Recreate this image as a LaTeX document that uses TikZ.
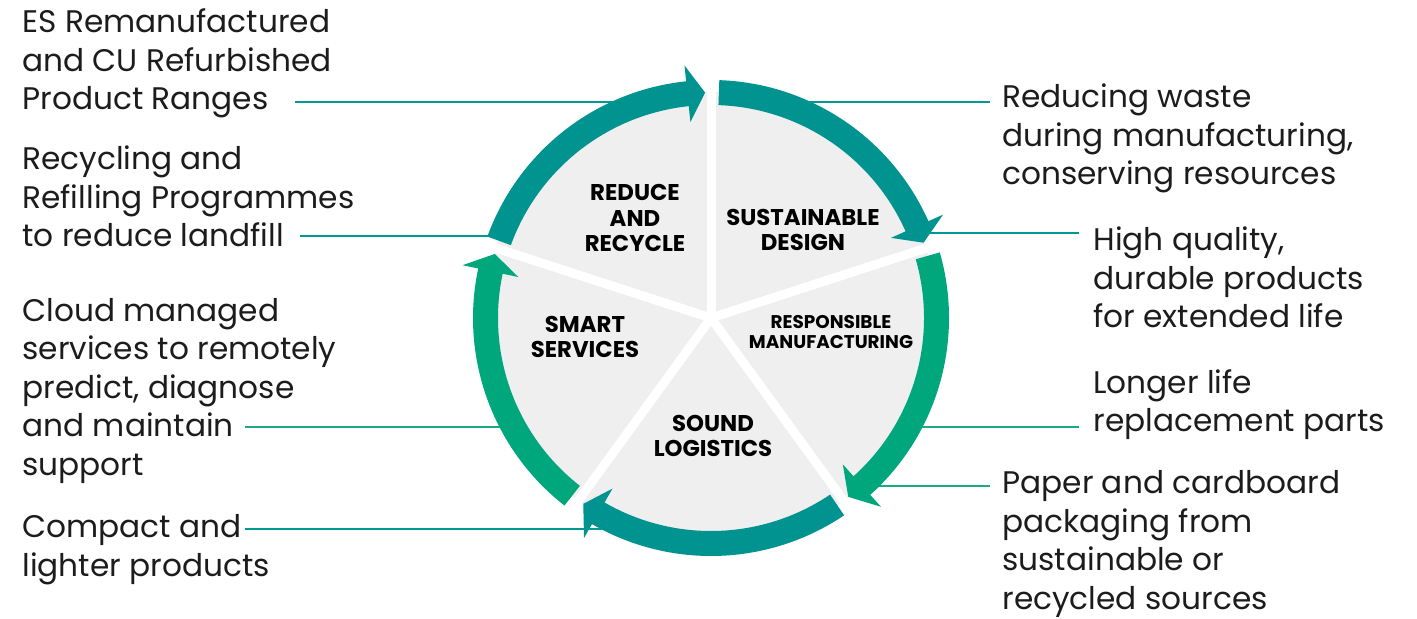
\documentclass[tikz,border=0pt]{standalone}
\usepackage{fontspec}
\setmainfont{Poppins}
\usetikzlibrary{calc}

\definecolor{ringteal}{RGB}{0,147,144}
\definecolor{ringgreen}{RGB}{0,166,124}
\definecolor{lineteal}{RGB}{0,152,150}
\definecolor{linegreen}{RGB}{28,170,134}
\definecolor{discgray}{RGB}{239,239,239}
\definecolor{inktext}{RGB}{28,28,28}

% colour, start angle, end angle (clockwise)
\newcommand{\ringarrow}[3]{%
  \fill[#1] (#2-2:213) arc[start angle=#2-2, end angle=#3+6, radius=213]
    -- (#3+6:197) -- (#3+1.5:225.5) -- (#3+6:254) -- (#3+6:238)
    arc[start angle=#3+6, end angle=#2-2, radius=238] -- cycle;}

\tikzset{
  note/.style={anchor=base west, align=left, inner sep=0pt, text=inktext,
    font=\fontsize{15.6}{19.25}\selectfont},
  stage/.style={align=center, inner sep=0pt, text=black,
    font=\bfseries\fontsize{11.4}{12.75}\selectfont},
  smallstage/.style={stage, font=\bfseries\fontsize{9.2}{10}\selectfont},
  tealline/.style={draw=lineteal, line width=1.4pt},
  greenline/.style={draw=linegreen, line width=1.4pt},
}

\begin{document}
\begin{tikzpicture}[x=0.5pt, y=0.5pt]
  \useasboundingbox (0,0) rectangle (1417,-619);

  % texts round the wheel (placed at the baseline of their last line)
  \node[note] (esnote) at (22,-110) {ES Remanufactured\\and CU Refurbished\\Product Ranges};
  \node[note] (recyclenote) at (22,-247) {Recycling and\\Refilling Programmes\\to reduce landfill};
  \node[note] (cloudnote) at (22,-475) {Cloud managed\\services to remotely\\predict, diagnose\\and maintain\\support};
  \node[note] (compactnote) at (22,-576) {Compact and\\lighter products};

  \node[note] (wastenote) at (1002,-185) {Reducing waste\\during manufacturing,\\conserving resources};
  \node[note] (qualitynote) at (1093,-328) {High quality,\\durable products\\for extended life};
  \node[note] (partsnote) at (1093,-432) {Longer life\\replacement parts};
  \node[note] (papernote) at (1002,-609) {Paper and cardboard\\packaging from\\sustainable or\\recycled sources};

  % wheel
  \fill[discgray] (711,-318) circle (226);
  \foreach \a in {90,18,-54,-126,162}
    \draw[white, line width=4.5pt] (711,-318) -- ++(\a:250);

  % connectors
  \coordinate (q1) at (295,-102);  \coordinate (p1) at (648,-102);
  \coordinate (q2) at (300,-236);  \coordinate (p2) at (501,-236);
  \coordinate (q3) at (245,-427);  \coordinate (p3) at (514,-427);
  \coordinate (q4) at (245,-529);  \coordinate (p4) at (633,-529);
  \coordinate (p5) at (774,-102);
  \coordinate (p6) at (919,-233);
  \coordinate (p7) at (908,-427);
  \coordinate (p8) at (861,-486);

  \draw[tealline] (q1) -- (p1);
  \draw[tealline] (q2) -- (p2);
  \draw[greenline] (q3) -- (p3);
  \draw[tealline] (q4) -- (p4);
  \draw[tealline, shorten >=6pt] (p5) -- (p5 -| wastenote.west);
  \draw[tealline, shorten >=7pt] (p6) -- (p6 -| qualitynote.west);
  \draw[greenline, shorten >=7pt] (p7) -- (p7 -| partsnote.west);
  \draw[greenline, shorten >=6pt] (p8) -- (p8 -| papernote.west);

  \begin{scope}[shift={(711,-318)}]
    \ringarrow{ringteal}{90}{18}
    \ringarrow{ringgreen}{18}{-54}
    \ringarrow{ringteal}{-54}{-126}
    \ringarrow{ringgreen}{-126}{-198}
    \ringarrow{ringteal}{162}{90}
  \end{scope}

  \node[stage] (reduce) at (635,-218) {REDUCE\\AND\\RECYCLE};
  \node[stage] (design) at (803,-230) {SUSTAINABLE\\DESIGN};
  \node[smallstage] (making) at (831,-332) {RESPONSIBLE\\MANUFACTURING};
  \node[stage] (smart) at (585,-337) {SMART\\SERVICES};
  \node[stage] (logistics) at (713,-436) {SOUND\\LOGISTICS};
\end{tikzpicture}
\end{document}
